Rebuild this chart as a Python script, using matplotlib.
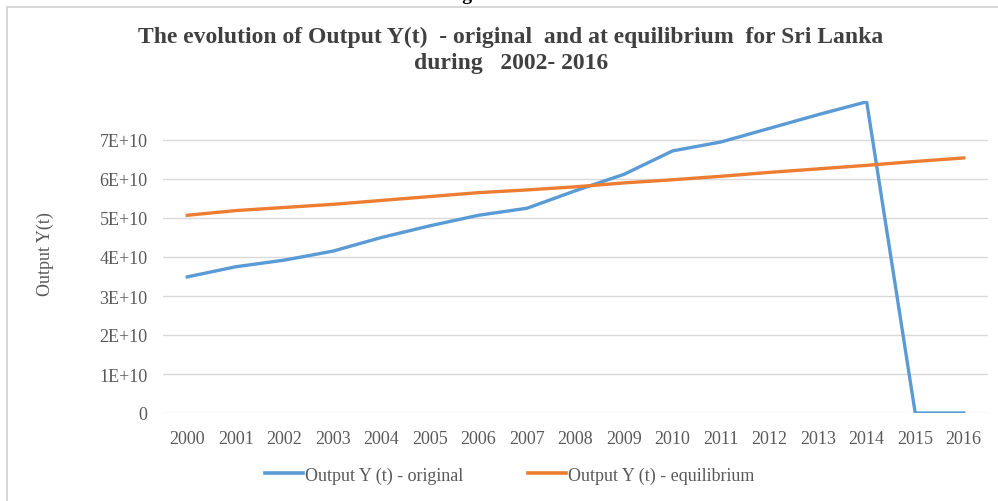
import matplotlib
matplotlib.use("Agg")
import matplotlib.pyplot as plt
from matplotlib.lines import Line2D
from matplotlib.patches import Rectangle

years = ["2000", "2001", "2002", "2003", "2004", "2005", "2006", "2007", "2008",
         "2009", "2010", "2011", "2012", "2013", "2014", "2015", "2016"]
original = [3.49e10, 3.75e10, 3.92e10, 4.15e10, 4.50e10, 4.80e10, 5.07e10, 5.25e10,
            5.70e10, 6.12e10, 6.72e10, 6.95e10, 7.30e10, 7.65e10, 7.98e10, 0.0, 0.0]
equilibrium = [5.07e10, 5.19e10, 5.27e10, 5.35e10, 5.45e10, 5.55e10, 5.65e10, 5.72e10,
               5.80e10, 5.90e10, 5.98e10, 6.07e10, 6.17e10, 6.26e10, 6.35e10, 6.45e10, 6.54e10]
ytick_vals = [0, 1e10, 2e10, 3e10, 4e10, 5e10, 6e10, 7e10]
ytick_labels = ["0", "1E+10", "2E+10", "3E+10", "4E+10", "5E+10", "6E+10", "7E+10"]
series_names = ["Output Y (t) - original", "Output Y (t) - equilibrium"]

BLUE = "#5B9BD5"
ORANGE = "#ED7D31"
TXT = "#595959"
SERIF = ["Liberation Serif", "DejaVu Serif"]

W, H = 998, 502
fig = plt.figure(figsize=(W / 100, H / 100), dpi=100)
fig.patch.set_facecolor("white")

# outer border of chart
fig.patches.append(Rectangle((7 / W, -0.05), 1.1, 1 - 7.5 / H + 0.05, transform=fig.transFigure,
                             fill=False, edgecolor="#d0d0d0", linewidth=1.2))

# partially visible caption at the very top
fig.text(500 / W, 1 + 4 / H, "Figure 3.2.22", ha="center", va="center", fontsize=14,
         fontweight="bold", family=SERIF, color="black")

ax = fig.add_axes([163 / W, 1 - 414 / H, (988 - 163) / W, (414 - 102) / H])
x = list(range(len(years)))
ax.plot(x, original, color=BLUE, linewidth=2.4, solid_joinstyle="round", zorder=3)
ax.plot(x, equilibrium, color=ORANGE, linewidth=2.4, solid_joinstyle="round", zorder=3)

ax.set_xlim(-0.5, len(years) - 0.5)
ax.set_ylim(0, 8.0e10)
ax.set_yticks(ytick_vals)
ax.set_yticklabels(ytick_labels)
ax.set_xticks(x)
ax.set_xticklabels(years)
ax.grid(axis="y", color="#d9d9d9", linewidth=1.0)
ax.set_axisbelow(True)
for s in ax.spines.values():
    s.set_visible(False)
ax.tick_params(axis="both", length=0, labelsize=13, labelcolor=TXT)
ax.tick_params(axis="y", pad=11)
ax.tick_params(axis="x", pad=12)
for lab in ax.get_xticklabels() + ax.get_yticklabels():
    lab.set_family(SERIF)

fig.text(45 / W, 1 - 254 / H, "Output Y(t)", rotation=90, ha="center", va="center",
         fontsize=13, family=SERIF, color=TXT)

fig.text(511 / W, 1 - 37 / H, "The evolution of Output Y(t)  - original  and at equilibrium  for Sri Lanka",
         ha="center", va="center", fontsize=17, fontweight="bold", family=SERIF, color="#404040")
fig.text(511 / W, 1 - 63 / H, "during   2002- 2016",
         ha="center", va="center", fontsize=17, fontweight="bold", family=SERIF, color="#404040")

handles = [Line2D([0], [0], color=BLUE, linewidth=2.6),
           Line2D([0], [0], color=ORANGE, linewidth=2.6)]
leg = fig.legend(handles, series_names, loc="center", bbox_to_anchor=(510 / W, 1 - 476 / H),
                 ncol=2, frameon=False, handlelength=2.1, handletextpad=0.1, columnspacing=3.6,
                 prop={"family": SERIF, "size": 13})
for t in leg.get_texts():
    t.set_color(TXT)

fig.savefig("out.png", dpi=100, facecolor="white")
